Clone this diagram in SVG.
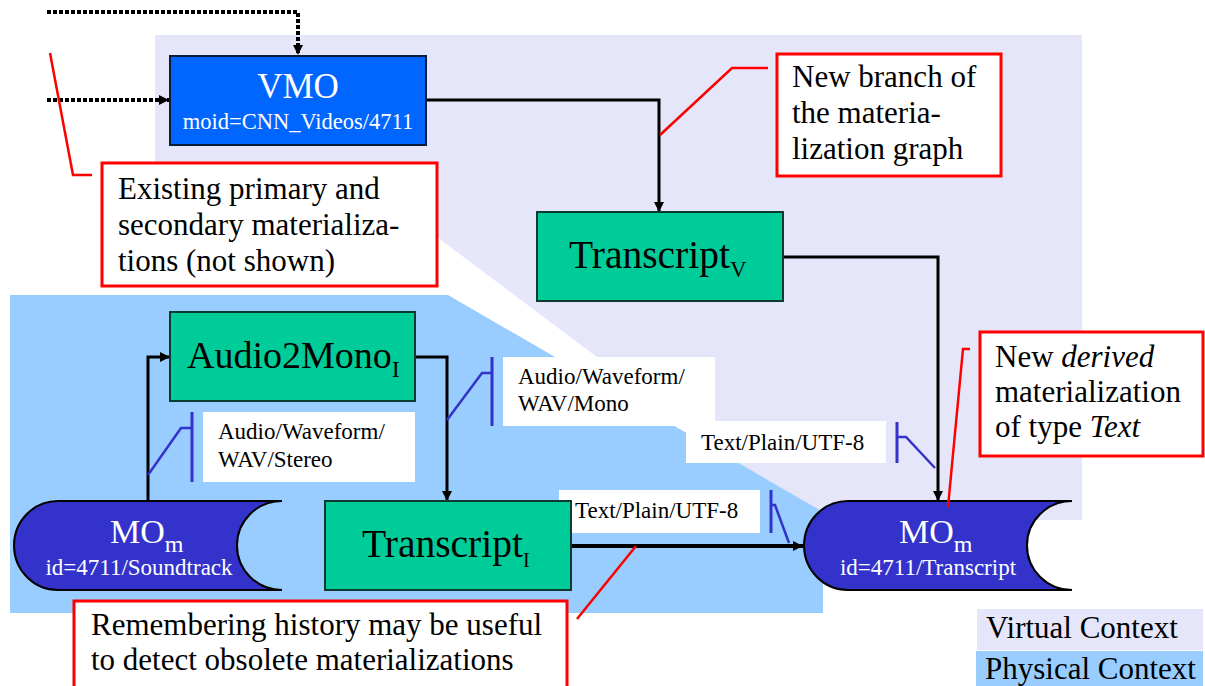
<svg xmlns="http://www.w3.org/2000/svg" width="1205" height="686" viewBox="0 0 1205 686">
<style>
.lbl{font-family:"Liberation Serif","Times New Roman",serif;fill:#000}
.wt{font-family:"Liberation Serif","Times New Roman",serif;fill:#fff}
.proc{fill:#00CC99;stroke:#0B3A2E;stroke-width:2}
.mo{fill:#3333CC;stroke:#000;stroke-width:2}
.conn{fill:none;stroke:#000;stroke-width:3}
.dot{fill:none;stroke:#000;stroke-width:4;stroke-dasharray:4 2}
.tick{fill:none;stroke:#3333CC;stroke-width:3}
.callout{fill:#fff;stroke:#FF0000;stroke-width:3}
.rl{fill:none;stroke:#FF0000;stroke-width:2.5}
.tag{fill:#fff}
</style>
<defs>
<marker id="ah" viewBox="0 0 10 10" refX="10" refY="5" markerWidth="10" markerHeight="10" markerUnits="userSpaceOnUse" orient="auto">
<path d="M0,0 L10,5 L0,10 Z" fill="#000"/>
</marker>
</defs>
<!-- contexts -->
<g id="contexts">
<polygon points="155,35 1082,35 1082,520 814,520 425,228 155,228" fill="#E6E6FA"/>
<polygon points="10,295 448,295 823,512 823,613 10,613" fill="#99CCFF"/>
</g>
<!-- connectors -->
<g id="connectors">
<polyline class="dot" points="47,12 298,12 298,55" marker-end="url(#ah)"/>
<polyline class="dot" points="47,100 169,100" marker-end="url(#ah)"/>
<polyline class="conn" points="426,100 659,100 659,212" marker-end="url(#ah)"/>
<polyline class="conn" points="783,257 938,257 938,501" marker-end="url(#ah)"/>
<polyline class="conn" points="148,501 148,357 170,357" marker-end="url(#ah)"/>
<polyline class="conn" points="415,357 447,357 447,501" marker-end="url(#ah)"/>
<polyline class="conn" points="571,546 803,546" style="stroke-width:4" marker-end="url(#ah)"/>
</g>
<!-- edge labels -->
<g id="edge-labels">
<rect class="tag" x="203" y="412" width="212" height="70"/>
<line class="tick" x1="192" y1="412" x2="192" y2="482"/>
<polyline class="tick" points="148,475 181,428 192,428" style="stroke-width:2.5"/>
<text class="lbl" x="218" y="439" font-size="23">Audio/Waveform/</text>
<text class="lbl" x="218" y="467" font-size="23">WAV/Stereo</text>

<rect class="tag" x="503" y="357" width="212" height="69"/>
<line class="tick" x1="492" y1="357" x2="492" y2="426"/>
<polyline class="tick" points="447,420 482,373 492,373" style="stroke-width:2.5"/>
<text class="lbl" x="518" y="384" font-size="23">Audio/Waveform/</text>
<text class="lbl" x="518" y="411" font-size="23">WAV/Mono</text>

<rect class="tag" x="686" y="421" width="200" height="42"/>
<line class="tick" x1="897" y1="422" x2="897" y2="463"/>
<polyline class="tick" points="897,437 906,437 935,468" style="stroke-width:2.5"/>
<text class="lbl" x="701" y="450" font-size="23">Text/Plain/UTF-8</text>

<rect class="tag" x="559" y="490" width="201" height="43"/>
<line class="tick" x1="771" y1="490" x2="771" y2="533"/>
<polyline class="tick" points="771,505 775,505 789,543" style="stroke-width:2.5"/>
<text class="lbl" x="575" y="518" font-size="23">Text/Plain/UTF-8</text>
</g>
<!-- nodes -->
<g id="vmo">
<rect x="170" y="56" width="256" height="89" fill="#0066FF" stroke="#0A1E3C" stroke-width="2"/>
<text class="wt" x="298" y="98" font-size="35" text-anchor="middle">VMO</text>
<text class="wt" x="298" y="129" font-size="22.5" text-anchor="middle">moid=CNN_Videos/4711</text>
</g>
<g id="transcript-v">
<rect class="proc" x="537" y="212" width="246" height="89"/>
<text class="lbl" x="569" y="268" font-size="39.5">Transcript<tspan font-size="23" dy="9">V</tspan></text>
</g>
<g id="audio2mono">
<rect class="proc" x="170" y="312" width="245" height="89"/>
<text class="lbl" x="187" y="368" font-size="38">Audio2Mono<tspan font-size="24" dy="9">I</tspan></text>
</g>
<g id="transcript-i">
<rect class="proc" x="325" y="501" width="246" height="89"/>
<text class="lbl" x="362" y="557" font-size="39.5">Transcript<tspan font-size="20" dy="10">I</tspan></text>
</g>
<g id="mo-soundtrack">
<path class="mo" d="M58,501 L282,501 A45,44.5 0 0 0 282,590 L58,590 A44,44.5 0 0 1 58,501 Z"/>
<text class="wt" x="110" y="543" font-size="34">MO<tspan font-size="24" dy="9">m</tspan></text>
<text class="wt" x="139" y="575" font-size="23" text-anchor="middle">id=4711/Soundtrack</text>
</g>
<g id="mo-transcript">
<path class="mo" d="M848,501 L1072,501 A45,44.5 0 0 0 1072,590 L848,590 A44,44.5 0 0 1 848,501 Z"/>
<text class="wt" x="899" y="543" font-size="34">MO<tspan font-size="24" dy="9">m</tspan></text>
<text class="wt" x="928" y="575" font-size="23" text-anchor="middle">id=4711/Transcript</text>
</g>
<!-- callouts -->
<g id="callout-existing">
<polyline class="rl" points="50,53 73,175 92,175"/>
<rect class="callout" x="102" y="163" width="335" height="123"/>
<text class="lbl" x="118" y="199" font-size="31">Existing primary and</text>
<text class="lbl" x="118" y="235" font-size="31">secondary materializa-</text>
<text class="lbl" x="118" y="271" font-size="31">tions (not shown)</text>
</g>
<g id="callout-branch">
<polyline class="rl" points="660,135 732,68 768,68"/>
<rect class="callout" x="777" y="54" width="224" height="122"/>
<text class="lbl" x="792" y="87" font-size="31">New branch of</text>
<text class="lbl" x="792" y="123" font-size="31">the materia-</text>
<text class="lbl" x="792" y="159" font-size="31">lization graph</text>
</g>
<g id="callout-derived">
<polyline class="rl" points="948,507 963,349 970,349"/>
<rect class="callout" x="980" y="332" width="223" height="124"/>
<text class="lbl" x="995" y="367" font-size="31">New <tspan font-style="italic">derived</tspan></text>
<text class="lbl" x="995" y="402" font-size="31">materialization</text>
<text class="lbl" x="995" y="437" font-size="31">of type <tspan font-style="italic">Text</tspan></text>
</g>
<g id="callout-history">
<polyline class="rl" points="577,619 636,546"/>
<rect class="callout" x="74" y="601" width="493" height="100"/>
<text class="lbl" x="91" y="635" font-size="31">Remembering history may be useful</text>
<text class="lbl" x="91" y="670" font-size="31">to detect obsolete materializations</text>
</g>
<!-- legend -->
<g id="legend">
<rect x="977" y="609" width="226" height="41" fill="#E6E6FA"/>
<text class="lbl" x="986" y="638" font-size="31">Virtual Context</text>
<rect x="976" y="651" width="227" height="35" fill="#99CCFF"/>
<text class="lbl" x="985" y="679" font-size="31">Physical Context</text>
</g>
</svg>
